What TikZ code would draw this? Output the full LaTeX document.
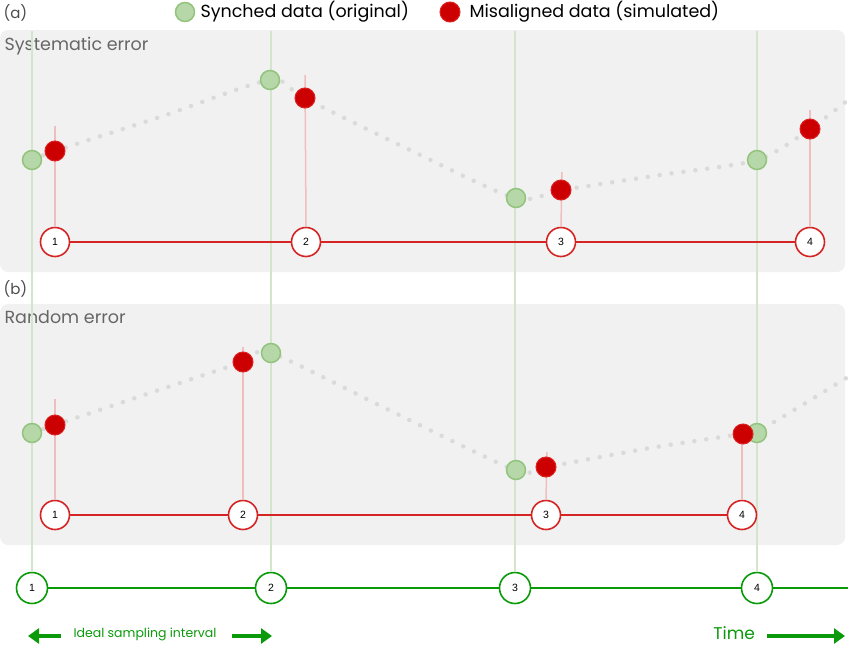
\documentclass[tikz,border=0pt]{standalone}
\usepackage{fontspec}
\setmainfont{Poppins}
\newfontfamily\numfont{Liberation Sans}
\usetikzlibrary{arrows.meta}
\definecolor{panelgrey}{HTML}{F1F1F1}
\definecolor{gfill}{HTML}{B6D7A8}
\definecolor{gdraw}{HTML}{93C47D}
\definecolor{rfill}{HTML}{CC0000}
\definecolor{rdraw}{HTML}{DD2222}
\definecolor{vline}{HTML}{D3E6CC}
\definecolor{pinkline}{HTML}{F0BEBE}
\definecolor{dotgrey}{HTML}{DADADA}
\definecolor{redline}{HTML}{D42424}
\definecolor{tgreen}{HTML}{0A9A0A}
\begin{document}
\begin{tikzpicture}[x=1pt,y=-1pt,
  panel/.style={fill=panelgrey,draw=none,rounded corners=8pt},
  gdot/.style={circle,fill=gfill,draw=gdraw,line width=1.5pt,minimum size=19pt,inner sep=0pt},
  rdot/.style={circle,fill=rfill,draw=rdraw,line width=1pt,minimum size=20pt,inner sep=0pt},
  rnum/.style={circle,fill=white,draw=redline,line width=1.6pt,minimum size=29pt,inner sep=0pt,font=\numfont\fontsize{10.5}{12}\selectfont},
  gnum/.style={circle,fill=white,draw=tgreen,line width=1.6pt,minimum size=31pt,inner sep=0pt,font=\numfont\fontsize{10.5}{12}\selectfont},
  vl/.style={draw=vline,line width=1.8pt},
  pl/.style={draw=pinkline,line width=1.5pt},
  dotcurve/.style={draw=dotgrey,line width=4.5pt,line cap=round,dash pattern=on 0pt off 12pt},
  rl/.style={draw=redline,line width=1.8pt},
  gl/.style={draw=tgreen,line width=2pt},
  panlabel/.style={anchor=west,text=black!70,font=\fontsize{15}{18}\selectfont},
  ptitle/.style={anchor=west,text=black!60,font=\fontsize{17.5}{20}\selectfont},
  legtext/.style={anchor=west,text=black,font=\fontsize{17.5}{20}\selectfont},
  bigarrow/.style={draw=tgreen,line width=3.2pt,-{Triangle[length=11pt,width=15pt]}}
]
\useasboundingbox (0,0) rectangle (848,645);
% panels
\path[panel] (0,30) rectangle (845,272);
\path[panel] (0,304) rectangle (845,545);
\node[panlabel] (la) at (0,13) {(a)};
\node[panlabel] (lb) at (0,289) {(b)};
\node[ptitle] (ta) at (1,46) {Systematic error};
\node[ptitle] (tb) at (1,317) {Random error};
% legend
\node[gdot] (lg) at (185,12) {};
\node[legtext] (lgt) at (197,12) {Synched data (original)};
\node[rdot] (lr) at (450,12) {};
\node[legtext] (lrt) at (466,12) {Misaligned data (simulated)};
% bottom timeline circles
\node[gnum] (t1) at (32,588) {1};
\node[gnum] (t2) at (271,588) {2};
\node[gnum] (t3) at (515,588) {3};
\node[gnum] (t4) at (757,588) {4};
\coordinate (tend) at (848,588);
% vertical green lines
\foreach \i/\x in {1/32,2/271,3/515,4/757}{
  \coordinate (top\i) at (\x,31);
  \draw[vl] (top\i) -- (t\i.north);
}
% dotted curves
\draw[dotcurve] plot[smooth,tension=0.45] coordinates {(32,160) (55,151) (163,116) (270,80) (304,98) (410,150) (515,198) (562,190) (660,175) (757,160) (810,129) (848,100)};
\draw[dotcurve] plot[smooth,tension=0.45] coordinates {(32,433) (55,425) (150,393) (243,362) (271,353) (393,412) (515,470) (546,467) (650,448) (742,434) (757,432) (848,377)};
% panel (a)
\node[rnum] (a1) at (55,242) {1};
\node[rnum] (a2) at (306,242) {2};
\node[rnum] (a3) at (561,242) {3};
\node[rnum] (a4) at (810,242) {4};
\coordinate (pa1) at (55,126);
\coordinate (pa2) at (305,75);
\coordinate (pa3) at (562,172);
\coordinate (pa4) at (810,110);
\foreach \i in {1,2,3,4}{\draw[pl] (pa\i) -- (a\i.north);}
\draw[rl] (a1) -- (a2);
\draw[rl] (a2) -- (a3);
\draw[rl] (a3) -- (a4);
\node[gdot] (ga1) at (32,160) {};
\node[gdot] (ga2) at (270,80) {};
\node[gdot] (ga3) at (516,198) {};
\node[gdot] (ga4) at (757,160) {};
\node[rdot] (ra1) at (55,151) {};
\node[rdot] (ra2) at (305,98) {};
\node[rdot] (ra3) at (561,190) {};
\node[rdot] (ra4) at (810,129) {};
% panel (b)
\node[rnum] (b1) at (55,515) {1};
\node[rnum] (b2) at (243,515) {2};
\node[rnum] (b3) at (546,515) {3};
\node[rnum] (b4) at (742,515) {4};
\coordinate (pb1) at (55,399);
\coordinate (pb2) at (243,347);
\coordinate (pb3) at (547,452);
\coordinate (pb4) at (742,440);
\foreach \i in {1,2,3,4}{\draw[pl] (pb\i) -- (b\i.north);}
\draw[rl] (b1) -- (b2);
\draw[rl] (b2) -- (b3);
\draw[rl] (b3) -- (b4);
\node[gdot] (gb1) at (32,433) {};
\node[gdot] (gb2) at (271,353) {};
\node[gdot] (gb3) at (516,470) {};
\node[gdot] (gb4) at (757,433) {};
\node[rdot] (rb1) at (55,425) {};
\node[rdot] (rb2) at (243,362) {};
\node[rdot] (rb3) at (546,467) {};
\node[rdot] (rb4) at (743,434) {};
% timeline
\draw[gl] (t1) -- (t2);
\draw[gl] (t2) -- (t3);
\draw[gl] (t3) -- (t4);
\draw[gl] (t4) -- (tend);
% bottom labels
\node[text=tgreen,inner sep=1pt,font=\fontsize{12.5}{14}\selectfont] (ideal) at (145,634) {Ideal sampling interval};
\coordinate (il) at (28,636);
\coordinate (ir) at (272,636);
\coordinate (ils) at (61,636);
\coordinate (irs) at (232,636);
\draw[bigarrow] (ils) -- (il);
\draw[bigarrow] (irs) -- (ir);
\node[text=tgreen,inner sep=1pt,font=\fontsize{17}{19}\selectfont,anchor=east] (time) at (756,633) {Time};
\coordinate (tl) at (767,636);
\coordinate (tr) at (845,636);
\draw[bigarrow] (tl) -- (tr);
\end{tikzpicture}
\end{document}
